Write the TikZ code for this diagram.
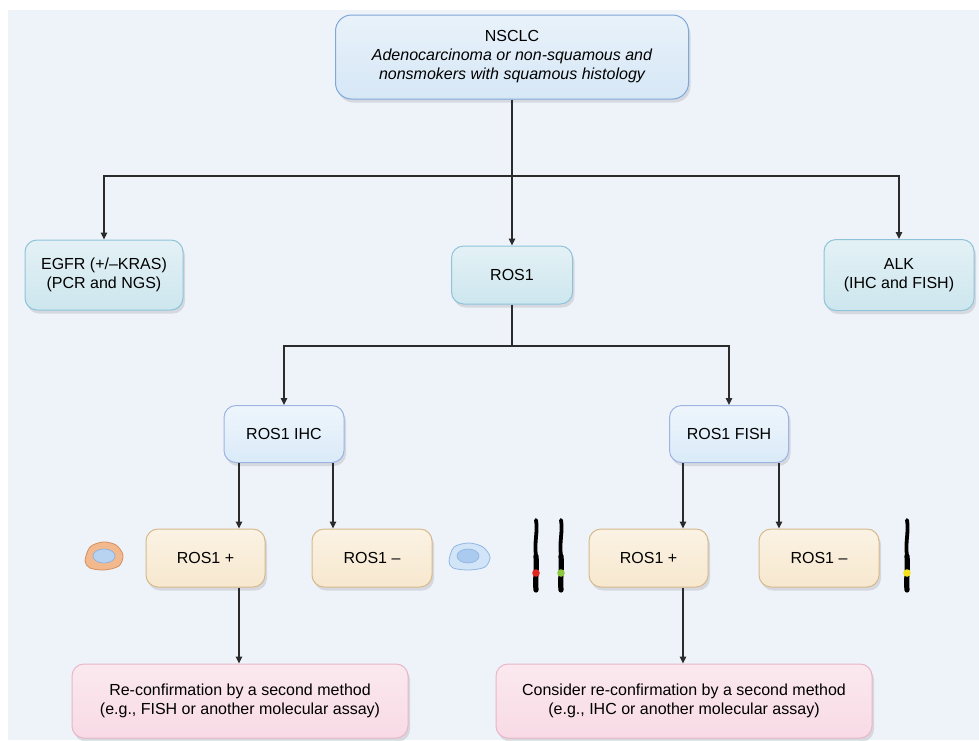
\documentclass[tikz,border=0pt]{standalone}
\usepackage{fontspec}
\setmainfont{Liberation Sans}
\usetikzlibrary{shadows,arrows.meta}
\definecolor{bgc}{HTML}{EEF3FA}
\definecolor{nsF}{HTML}{D6E7F6}
\definecolor{nsD}{HTML}{7FA8D8}
\definecolor{cyF}{HTML}{CDE6EE}
\definecolor{cyD}{HTML}{8EC3DA}
\definecolor{ihF}{HTML}{DAEAF8}
\definecolor{ihD}{HTML}{9DB4E3}
\definecolor{tnF}{HTML}{F7E8CE}
\definecolor{tnD}{HTML}{D6B98C}
\definecolor{pkF}{HTML}{F8DAE5}
\definecolor{pkD}{HTML}{E8B6C9}
\definecolor{arrc}{HTML}{2B2B2B}
\definecolor{orF}{HTML}{F3B98E}
\definecolor{orD}{HTML}{D58F5C}
\definecolor{nuF}{HTML}{B8D3F1}
\definecolor{nuD}{HTML}{8EB2DD}
\definecolor{blF}{HTML}{D2E4F7}
\definecolor{blD}{HTML}{90B6E1}
\definecolor{bnF}{HTML}{AACBEF}
\definecolor{dotR}{HTML}{E0261E}
\definecolor{dotG}{HTML}{8DC63F}
\definecolor{dotY}{HTML}{F5E11B}
\tikzset{
  box/.style={rounded corners=12pt, line width=1pt, align=center, inner sep=0pt,
    font=\fontsize{16}{19}\selectfont,
    drop shadow={opacity=0.22, shadow xshift=2pt, shadow yshift=-3.5pt}},
  nsbox/.style={box, draw=nsD, top color=nsF!55!white, bottom color=nsF, rounded corners=16pt},
  cybox/.style={box, draw=cyD, top color=cyF!55!white, bottom color=cyF},
  ihbox/.style={box, draw=ihD, top color=ihF!45!white, bottom color=ihF},
  tnbox/.style={box, draw=tnD, top color=tnF!55!white, bottom color=tnF},
  pkbox/.style={box, draw=pkD, top color=pkF!60!white, bottom color=pkF},
  arr/.style={draw=arrc, line width=1.3pt, -{Triangle[length=7pt,width=6.5pt]}},
  ln/.style={draw=arrc, line width=1.3pt},
  chromo/.style={line cap=round, black},
}
\begin{document}
\begin{tikzpicture}[x=1pt,y=-1pt]
\useasboundingbox (0,0) rectangle (979,740);
\fill[bgc] (8,10) rectangle (979,740);

\node[nsbox, minimum width=353pt, minimum height=84pt] (nsclc) at (512,57)
  {NSCLC\\\itshape Adenocarcinoma or non-squamous and\\\itshape nonsmokers with squamous histology};
\node[cybox, minimum width=158pt, minimum height=70pt] (egfr) at (104,275) {EGFR (+/–KRAS)\\(PCR and NGS)};
\node[cybox, minimum width=121pt, minimum height=58pt] (ros1) at (512,275) {ROS1};
\node[cybox, minimum width=150pt, minimum height=71pt] (alk) at (899,275) {ALK\\(IHC and FISH)};
\node[ihbox, minimum width=120pt, minimum height=57pt] (ihc) at (284,434) {ROS1 IHC};
\node[ihbox, minimum width=119pt, minimum height=57pt] (fish) at (729,434) {ROS1 FISH};
\node[tnbox, minimum width=119pt, minimum height=58pt] (lp) at (205.5,558) {ROS1 +};
\node[tnbox, minimum width=120pt, minimum height=58pt] (lm) at (372,558) {ROS1 –};
\node[tnbox, minimum width=119pt, minimum height=58pt] (rp) at (648.5,558) {ROS1 +};
\node[tnbox, minimum width=120pt, minimum height=58pt] (rm) at (819,558) {ROS1 –};
\node[pkbox, minimum width=336pt, minimum height=74pt] (lpink) at (240,701)
  {Re-confirmation by a second method\\(e.g., FISH or another molecular assay)};
\node[pkbox, minimum width=376pt, minimum height=74pt] (rpink) at (684,701)
  {Consider re-confirmation by a second method\\(e.g., IHC or another molecular assay)};

% top level
\coordinate (t) at (512,176);
\draw[arr] (nsclc.south) -- (ros1.north);
\draw[arr] (t) -| (egfr.north);
\draw[arr] (t) -| (alk.north);
% ROS1 split
\coordinate (m) at (512,346);
\draw[ln] (ros1.south) -- (m);
\draw[arr] (m) -| (ihc.north);
\draw[arr] (m) -| (fish.north);
% IHC / FISH children
\coordinate (a1) at ([xshift=-45pt]ihc.south);
\coordinate (a2) at ([xshift=49pt]ihc.south);
\draw[arr] (a1) -- (a1 |- lp.north);
\draw[arr] (a2) -- (a2 |- lm.north);
\coordinate (b1) at ([xshift=-46pt]fish.south);
\coordinate (b2) at ([xshift=50pt]fish.south);
\draw[arr] (b1) -- (b1 |- rp.north);
\draw[arr] (b2) -- (b2 |- rm.north);
% to pink
\draw[arr] (a1 |- lp.south) -- (a1 |- lpink.north);
\draw[arr] (b1 |- rp.south) -- (b1 |- rpink.north);

% orange cell
\draw[fill=orF, draw=orD, line width=0.8pt]
  plot[smooth cycle] coordinates {(85,561) (90,547) (103,542) (116,545) (123,555) (119,566) (104,570) (90,568)};
\draw[fill=nuF, draw=nuD, line width=0.7pt] (104,556) ellipse [x radius=11, y radius=7];
% blue cell
\draw[fill=blF, draw=blD, line width=0.8pt]
  plot[smooth cycle] coordinates {(449,561) (454,547) (469,543) (483,547) (490,557) (485,567) (469,570) (453,568)};
\draw[fill=bnF, draw=nuD, line width=0.6pt] (468,556) ellipse [x radius=11, y radius=7];

% chromosomes
\foreach \cx/\dc in {536/dotR, 561/dotG, 907/dotY}{
  \draw[chromo, line width=3.8pt] (\cx,520) .. controls (\cx+2,532) and (\cx-2,542) .. (\cx,556);
  \draw[chromo, line width=5.2pt] (\cx,556) .. controls (\cx+1,568) and (\cx-1,580) .. (\cx,590);
  \fill[\dc] (\cx,573) circle [radius=3.8];
}
\end{tikzpicture}
\end{document}
